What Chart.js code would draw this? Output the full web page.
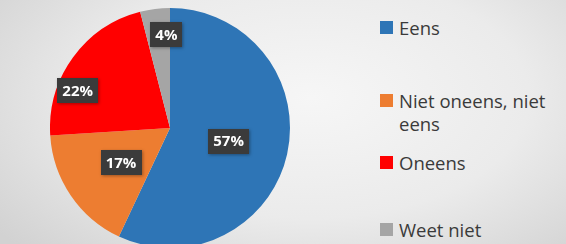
<!DOCTYPE html>
<html>
<head>
<meta charset="utf-8">
<script src="https://cdn.jsdelivr.net/npm/chart.js@4"></script>
<style>
  html, body { margin: 0; padding: 0; }
  body {
    width: 566px; height: 244px; overflow: hidden; position: relative;
    background: radial-gradient(ellipse 70% 90% at 55% 40%, #f6f6f6 0%, #ebebeb 55%, #d2d2d2 100%);
    font-family: 'Open Sans', sans-serif;
  }
  #wrap { position: absolute; left: 50px; top: 8px; width: 240px; height: 240px; }
  #legend { position: absolute; left: 0; top: 0; }
  .item { position: absolute; left: 380px; color: #3a3a3a; font-size: 18.5px; line-height: 23px; white-space: nowrap; }
  .item .sw { position: absolute; left: 0; top: 5px; width: 13px; height: 13px; }
  .item .tx { position: absolute; left: 19px; top: 0; }
</style>
</head>
<body>
<div id="wrap"><canvas id="chart"></canvas></div>
<div id="legend"></div>
<script>
// data
const categories = ['Eens', 'Niet oneens, niet eens', 'Oneens', 'Weet niet'];
const legendLines = [['Eens'], ['Niet oneens, niet', 'eens'], ['Oneens'], ['Weet niet']];
const shares = [57, 17, 22, 4];
const colors = ['#2E75B6', '#ED7D31', '#FF0000', '#A5A5A5'];

// label placement per slice: [radius fraction, angle shift in degrees]
const labelPlace = [[0.5, 0], [0.5, -1], [0.83, -14], [0.78, 5]];
const legendTop = [16, 89, 151, 218];

// data labels in dark boxes (no datalabels plugin available offline)
const boxLabels = {
  id: 'boxLabels',
  afterDatasetsDraw(chart) {
    const ctx = chart.ctx;
    const meta = chart.getDatasetMeta(0);
    ctx.save();
    ctx.font = 'bold 15px "Open Sans", sans-serif';
    ctx.textAlign = 'center';
    ctx.textBaseline = 'middle';
    meta.data.forEach((arc, i) => {
      const p = arc.getProps(['x', 'y', 'startAngle', 'endAngle', 'outerRadius'], true);
      const [f, shift] = labelPlace[i];
      const a = (p.startAngle + p.endAngle) / 2 + shift * Math.PI / 180;
      const x = p.x + Math.cos(a) * p.outerRadius * f;
      const y = p.y + Math.sin(a) * p.outerRadius * f;
      const text = shares[i] + '%';
      const w = ctx.measureText(text).width + 10;
      const h = 25;
      ctx.shadowColor = 'rgba(0,0,0,0.35)';
      ctx.shadowBlur = 3;
      ctx.shadowOffsetX = 1;
      ctx.shadowOffsetY = 1;
      ctx.fillStyle = '#3b3b3b';
      ctx.fillRect(Math.round(x - w / 2), Math.round(y - h / 2), Math.round(w), h);
      ctx.shadowColor = 'transparent';
      ctx.fillStyle = '#ffffff';
      ctx.fillText(text, x, y + 1);
    });
    ctx.restore();
  },
};

new Chart(document.getElementById('chart'), {
  type: 'pie',
  data: {
    labels: categories,
    datasets: [{
      data: shares,
      backgroundColor: colors,
      borderWidth: 0,
    }],
  },
  options: {
    responsive: true,
    maintainAspectRatio: false,
    animation: false,
    layout: { padding: 0 },
    plugins: {
      legend: { display: false },
      tooltip: { enabled: false },
    },
  },
  plugins: [boxLabels],
});

// legend
const legend = document.getElementById('legend');
legendLines.forEach((lines, i) => {
  const item = document.createElement('div');
  item.className = 'item';
  item.style.top = legendTop[i] + 'px';
  const sw = document.createElement('span');
  sw.className = 'sw';
  sw.style.background = colors[i];
  const tx = document.createElement('span');
  tx.className = 'tx';
  tx.innerHTML = lines.join('<br>');
  item.appendChild(sw);
  item.appendChild(tx);
  legend.appendChild(item);
});
</script>
</body>
</html>
